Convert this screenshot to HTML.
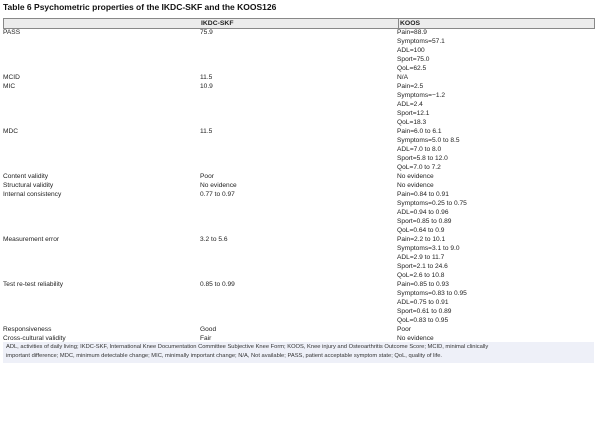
<!DOCTYPE html>
<html><head><meta charset="utf-8"><style>
body{margin:0;width:600px;height:436px;background:#fff;font-family:"Liberation Sans",sans-serif;color:#222;position:relative;overflow:hidden}
.t{position:absolute;left:3px;top:2px;font-size:8.5px;font-weight:bold;color:#111}
.h{position:absolute;left:3px;top:18px;width:590px;height:9px;background:#ececec;border:1px solid #888;font-size:6.8px;font-weight:bold;line-height:9px}
.h span{position:absolute}
.rows{position:absolute;left:0;top:28px;width:600px;font-size:6.6px;line-height:9px}
.r{position:relative}
.r div{position:absolute;top:0}
.c1{left:3px}.c2{left:200px}.c3{left:397px}
.fn{position:absolute;left:3px;top:342px;width:591px;height:21px;background:#eef0f8;font-size:5.75px;line-height:8.5px;padding:1px 0 0 3px;box-sizing:border-box;color:#333;white-space:nowrap}
</style></head><body>
<div class="t">Table 6 Psychometric properties of the IKDC-SKF and the KOOS126</div>
<div class="h"><span style="left:197px">IKDC-SKF</span><span style="left:394px;border-left:1px solid #888;padding-left:1px">KOOS</span></div>
<div class="rows">
<div class="r" style="height:45px"><div class="c1">PASS</div><div class="c2">75.9</div><div class="c3">Pain=88.9<br>Symptoms=57.1<br>ADL=100<br>Sport=75.0<br>QoL=62.5</div></div>
<div class="r" style="height:9px"><div class="c1">MCID</div><div class="c2">11.5</div><div class="c3">N/A</div></div>
<div class="r" style="height:45px"><div class="c1">MIC</div><div class="c2">10.9</div><div class="c3">Pain=2.5<br>Symptoms=−1.2<br>ADL=2.4<br>Sport=12.1<br>QoL=18.3</div></div>
<div class="r" style="height:45px"><div class="c1">MDC</div><div class="c2">11.5</div><div class="c3">Pain=6.0 to 6.1<br>Symptoms=5.0 to 8.5<br>ADL=7.0 to 8.0<br>Sport=5.8 to 12.0<br>QoL=7.0 to 7.2</div></div>
<div class="r" style="height:9px"><div class="c1">Content validity</div><div class="c2">Poor</div><div class="c3">No evidence</div></div>
<div class="r" style="height:9px"><div class="c1">Structural validity</div><div class="c2">No evidence</div><div class="c3">No evidence</div></div>
<div class="r" style="height:45px"><div class="c1">Internal consistency</div><div class="c2">0.77 to 0.97</div><div class="c3">Pain=0.84 to 0.91<br>Symptoms=0.25 to 0.75<br>ADL=0.94 to 0.96<br>Sport=0.85 to 0.89<br>QoL=0.64 to 0.9</div></div>
<div class="r" style="height:45px"><div class="c1">Measurement error</div><div class="c2">3.2 to 5.6</div><div class="c3">Pain=2.2 to 10.1<br>Symptoms=3.1 to 9.0<br>ADL=2.9 to 11.7<br>Sport=2.1 to 24.6<br>QoL=2.6 to 10.8</div></div>
<div class="r" style="height:45px"><div class="c1">Test re-test reliability</div><div class="c2">0.85 to 0.99</div><div class="c3">Pain=0.85 to 0.93<br>Symptoms=0.83 to 0.95<br>ADL=0.75 to 0.91<br>Sport=0.61 to 0.89<br>QoL=0.83 to 0.95</div></div>
<div class="r" style="height:9px"><div class="c1">Responsiveness</div><div class="c2">Good</div><div class="c3">Poor</div></div>
<div class="r" style="height:9px"><div class="c1">Cross-cultural validity</div><div class="c2">Fair</div><div class="c3">No evidence</div></div>
</div>
<div class="fn">ADL, activities of daily living; IKDC-SKF, International Knee Documentation Committee Subjective Knee Form; KOOS, Knee injury and Osteoarthritis Outcome Score; MCID, minimal clinically<br>important difference; MDC, minimum detectable change; MIC, minimally important change; N/A, Not available; PASS, patient acceptable symptom state; QoL, quality of life.</div>
</body></html>
